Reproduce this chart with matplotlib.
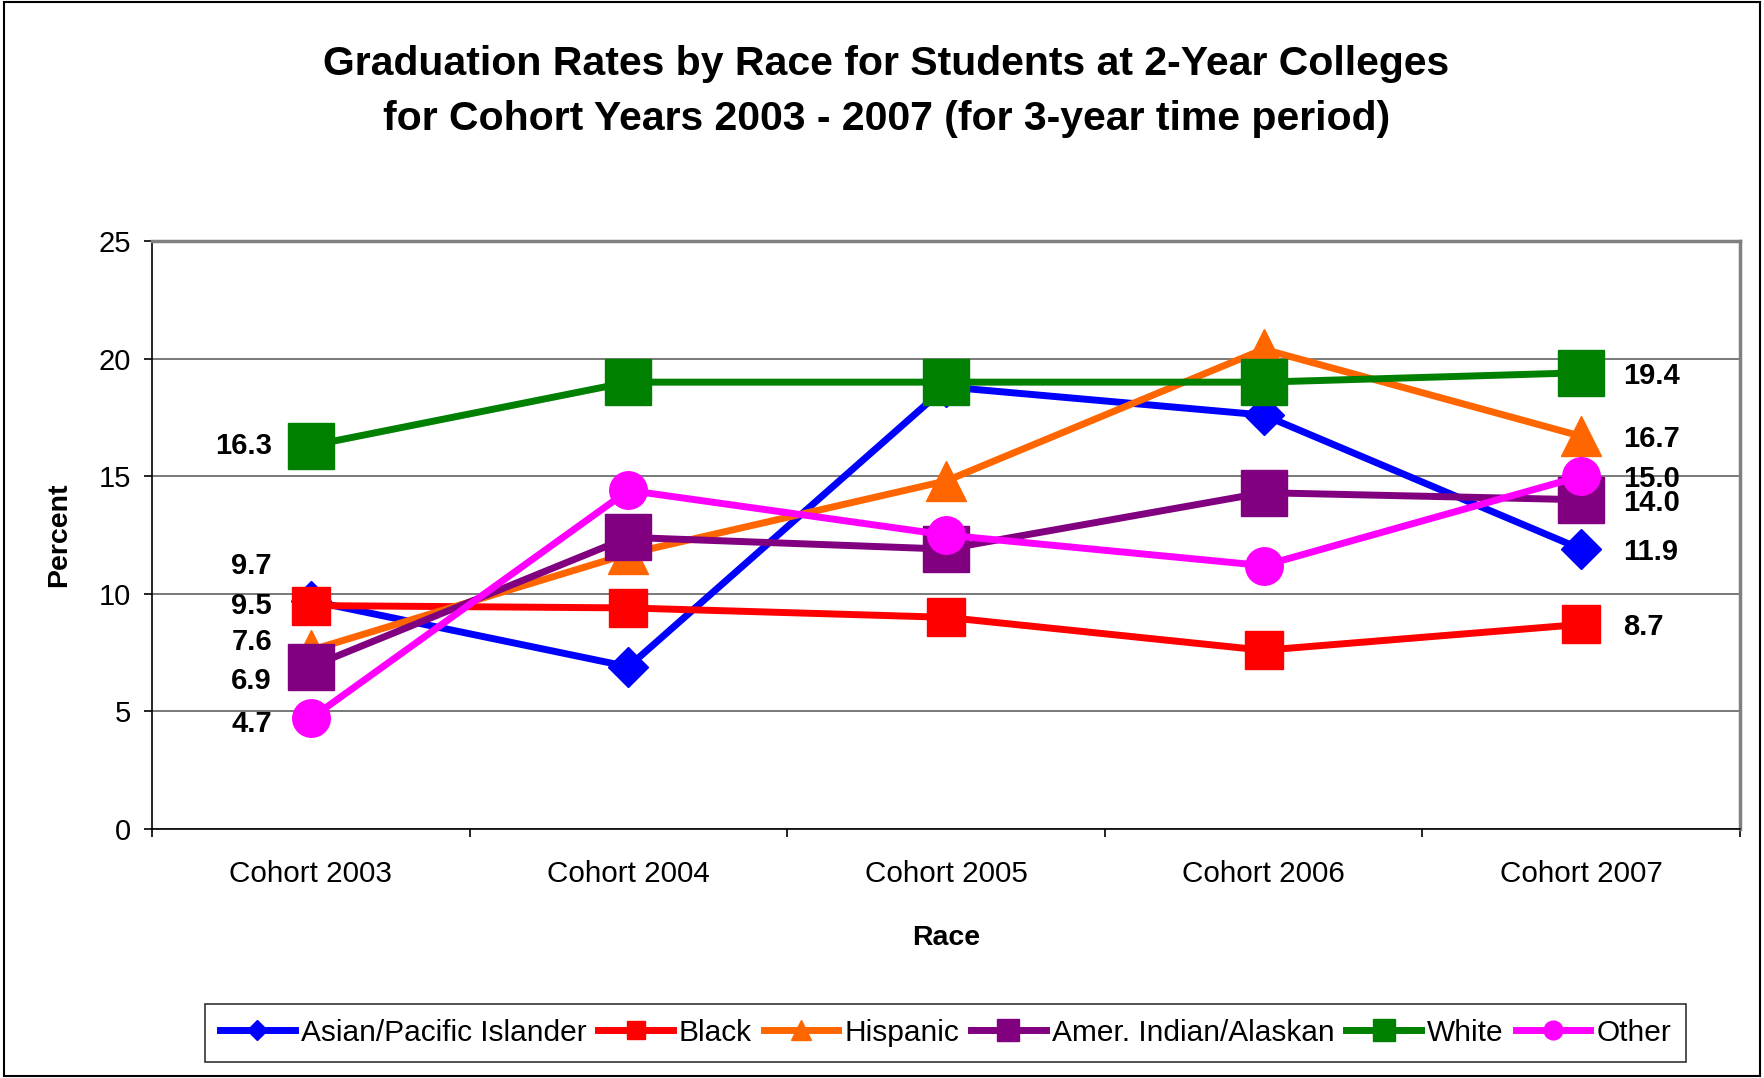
import matplotlib.pyplot as plt
import matplotlib.patches as patches
import numpy as np

plt.rcParams['font.family'] = ['Liberation Sans', 'DejaVu Sans']

cohorts = ["Cohort 2003", "Cohort 2004", "Cohort 2005", "Cohort 2006", "Cohort 2007"]

asian = [9.7, 6.9, 18.8, 17.6, 11.9]
black = [9.5, 9.4, 9.0, 7.6, 8.7]
hispanic = [7.6, 11.7, 14.8, 20.4, 16.7]
amer_indian = [6.9, 12.4, 11.9, 14.3, 14.0]
white = [16.3, 19.0, 19.0, 19.0, 19.4]
other = [4.7, 14.4, 12.5, 11.2, 15.0]

names = ["Asian/Pacific Islander", "Black", "Hispanic", "Amer. Indian/Alaskan", "White", "Other"]
series = [asian, black, hispanic, amer_indian, white, other]
colors = ["#0000FF", "#FF0000", "#FF6600", "#800080", "#008000", "#FF00FF"]
markers = ["D", "s", "^", "s", "s", "o"]
msizes = [20, 27, 29, 33, 33, 27]

# vertical nudges (points) for the first-point labels so they don't collide
left_dy = [27, 2, 8, -8, 2, -2]

fig = plt.figure(figsize=(17.64, 10.78), dpi=100)
ax = fig.add_axes([0.0862, 0.231, 0.9002, 0.5454])

x = np.arange(len(cohorts))
for vals, name, c, m, ms, dy in zip(series, names, colors, markers, msizes, left_dy):
    ax.plot(x, vals, color=c, lw=5, marker=m, ms=ms, mec=c, mfc=c, label=name,
            solid_joinstyle="round")
    ax.annotate(f"{vals[0]:.1f}", (x[0], vals[0]), xytext=(-28, dy), textcoords="offset points",
                ha="right", va="center_baseline", fontsize=21, fontweight="bold")
    ax.annotate(f"{vals[-1]:.1f}", (x[-1], vals[-1]), xytext=(30, 0), textcoords="offset points",
                ha="left", va="center_baseline", fontsize=21, fontweight="bold")

ax.set_xlim(-0.5, len(cohorts) - 0.5)
ax.set_ylim(0, 25)
ax.set_yticks(range(0, 26, 5))
ax.set_xticks(x)
ax.set_xticklabels(cohorts)
ax.set_xticks(np.arange(-0.5, len(cohorts), 1), minor=True)
ax.tick_params(axis="x", which="major", length=0, pad=22, labelsize=21.3)
ax.tick_params(axis="x", which="minor", length=6, width=1.2, direction="out")
ax.tick_params(axis="y", length=6, width=1.2, pad=9, labelsize=21)

ax.grid(axis="y", color="#555555", lw=1.1)
ax.set_axisbelow(True)
for s in ["top", "right"]:
    ax.spines[s].set_color("#808080")
    ax.spines[s].set_linewidth(2.5)
ax.spines["left"].set_linewidth(1.2)
ax.spines["bottom"].set_linewidth(1.2)

ax.set_xlabel("Race", fontsize=20.5, fontweight="bold", labelpad=27)
ax.set_ylabel("Percent", fontsize=20.5, fontweight="bold", labelpad=19)

fig.text(0.5025, 0.915,
         "Graduation Rates by Race for Students at 2-Year Colleges\nfor Cohort Years 2003 - 2007 (for 3-year time period)",
         ha="center", va="center", fontsize=29.5, fontweight="bold", linespacing=1.55)

leg = fig.legend(loc="center", bbox_to_anchor=(0.536, 0.042), ncol=6, fontsize=21.5,
                 markerscale=0.5, handlelength=2.5, handletextpad=0.2, columnspacing=0.4,
                 frameon=True, fancybox=False, edgecolor="black", borderpad=0.5)
leg.get_frame().set_linewidth(1.2)

fig.patches.append(patches.Rectangle((0.002, 0.002), 0.996, 0.996, transform=fig.transFigure,
                                     fill=False, edgecolor="black", lw=1.5))

fig.savefig("out.png", dpi=100)
